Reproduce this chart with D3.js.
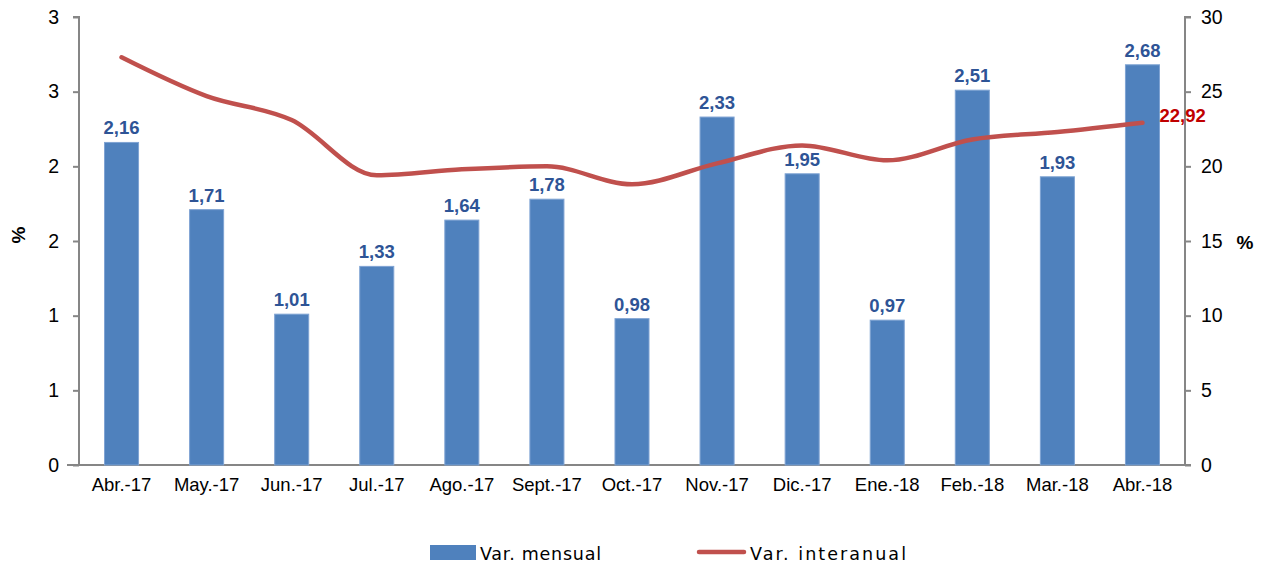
<!DOCTYPE html>
<html>
<head>
<meta charset="utf-8">
<script src="https://cdn.jsdelivr.net/npm/d3@7"></script>
<style>
  body { margin: 0; background: #fff; }
  text { font-family: "Liberation Sans", Arial, sans-serif; }
</style>
</head>
<body>
<div class="chart"></div>
<script>
let months = ["Abr.-17", "May.-17", "Jun.-17", "Jul.-17", "Ago.-17", "Sept.-17", "Oct.-17",
  "Nov.-17", "Dic.-17", "Ene.-18", "Feb.-18", "Mar.-18", "Abr.-18"];
let mensual = [2.16, 1.71, 1.01, 1.33, 1.64, 1.78, 0.98, 2.33, 1.95, 0.97, 2.51, 1.93, 2.68];
let interanual = [27.3, 24.7, 23.1, 19.4, 19.8, 20.0, 18.8, 20.2, 21.4, 20.4, 21.8, 22.3, 22.92];
let leftTicks = [0, 0.5, 1, 1.5, 2, 2.5, 3];
let rightTicks = [0, 5, 10, 15, 20, 25, 30];

let svgWidth = 1263;
let svgHeight = 565;
let margin = { top: 17, right: 78, bottom: 100, left: 79 };
let width = svgWidth - margin.left - margin.right;
let height = svgHeight - margin.top - margin.bottom;

let svg = d3.select(".chart")
    .append("svg")
    .attr("width", svgWidth)
    .attr("height", svgHeight);

let chartGroup = svg.append("g")
    .attr("transform", `translate(${margin.left}, ${margin.top})`);

let x = d3.scaleBand()
    .domain(months)
    .range([0, width])
    .paddingInner(0.6)
    .paddingOuter(0.3);

let yLeft = d3.scaleLinear().domain([0, 3]).range([height, 0]);
let yRight = d3.scaleLinear().domain([0, 30]).range([height, 0]);

let fmt = d3.format(".2f");
let comma = v => fmt(v).replace(".", ",");

// axes
let axisColor = "#868686";

let leftAxis = chartGroup.append("g")
    .call(d3.axisLeft(yLeft).tickValues(leftTicks).tickFormat(d => Math.round(d + 0.001)).tickSize(6).tickPadding(14));

let rightAxis = chartGroup.append("g")
    .attr("transform", `translate(${width}, 0)`)
    .call(d3.axisRight(yRight).tickValues(rightTicks).tickFormat(d3.format("d")).tickSize(6).tickPadding(10));

let bottomAxis = chartGroup.append("g")
    .attr("transform", `translate(0, ${height})`)
    .call(d3.axisBottom(x).tickSize(0).tickPadding(13));

[leftAxis, rightAxis, bottomAxis].forEach(a => {
  a.selectAll("path, line").attr("stroke", axisColor).attr("stroke-width", 2);
  a.selectAll("text").attr("fill", "#000").style("font-size", "19.5px")
   .style("font-family", "'Liberation Sans', Arial, sans-serif");
});
bottomAxis.selectAll("text").style("font-size", "18.5px");
leftAxis.select("path").attr("d", `M-6,${height}H0V0H-6`);
rightAxis.select("path").attr("d", `M6,${height}H0V0H6`);
bottomAxis.select("path").attr("d", `M-12,0H${width}`);

// bars
chartGroup.selectAll(".bar")
    .data(mensual)
    .enter()
    .append("rect")
    .attr("class", "bar")
    .attr("x", (d, i) => x(months[i]))
    .attr("y", d => yLeft(d))
    .attr("width", x.bandwidth())
    .attr("height", d => height - yLeft(d))
    .attr("fill", "#4F81BD")
    .attr("stroke", "#7FA3D3")
    .attr("stroke-width", 1);

chartGroup.selectAll(".barLabel")
    .data(mensual)
    .enter()
    .append("text")
    .attr("x", (d, i) => x(months[i]) + x.bandwidth() / 2)
    .attr("y", d => yLeft(d) - 8)
    .attr("text-anchor", "middle")
    .attr("fill", "#2E5496")
    .style("font-size", "18.5px")
    .style("font-weight", "bold")
    .text(d => comma(d));

// line
let line = d3.line()
    .x((d, i) => x(months[i]) + x.bandwidth() / 2)
    .y(d => yRight(d))
    .curve(d3.curveMonotoneX);

chartGroup.append("path")
    .datum(interanual)
    .attr("d", line)
    .attr("fill", "none")
    .attr("stroke", "#C0504D")
    .attr("stroke-width", 4.5)
    .attr("stroke-linecap", "round");

let last = interanual.length - 1;
chartGroup.append("text")
    .attr("x", x(months[last]) + x.bandwidth() / 2 + 17)
    .attr("y", yRight(interanual[last]) - 1)
    .attr("fill", "#C00000")
    .style("font-size", "18.5px")
    .style("font-weight", "bold")
    .text(comma(interanual[last]));

// axis titles
svg.append("text")
    .attr("transform", "translate(25, 235) rotate(-90)")
    .attr("text-anchor", "middle")
    .style("font-size", "19px")
    .style("font-weight", "bold")
    .text("%");

svg.append("text")
    .attr("x", 1245)
    .attr("y", 249)
    .attr("text-anchor", "middle")
    .style("font-size", "19px")
    .style("font-weight", "bold")
    .text("%");

// legend
let legend = svg.append("g");
legend.append("rect")
    .attr("x", 430).attr("y", 545).attr("width", 46).attr("height", 15)
    .attr("fill", "#4F81BD");
legend.append("text")
    .attr("x", 480).attr("y", 560)
    .attr("textLength", 121)
    .style("font-family", "'DejaVu Sans', Verdana, sans-serif")
    .style("font-size", "17.5px")
    .text("Var. mensual");
legend.append("line")
    .attr("x1", 699).attr("x2", 744).attr("y1", 552).attr("y2", 552)
    .attr("stroke", "#C0504D").attr("stroke-width", 4.5).attr("stroke-linecap", "round");
legend.append("text")
    .attr("x", 750).attr("y", 560)
    .attr("textLength", 156)
    .style("font-family", "'DejaVu Sans', Verdana, sans-serif")
    .style("font-size", "17.5px")
    .text("Var. interanual");
</script>
</body>
</html>
